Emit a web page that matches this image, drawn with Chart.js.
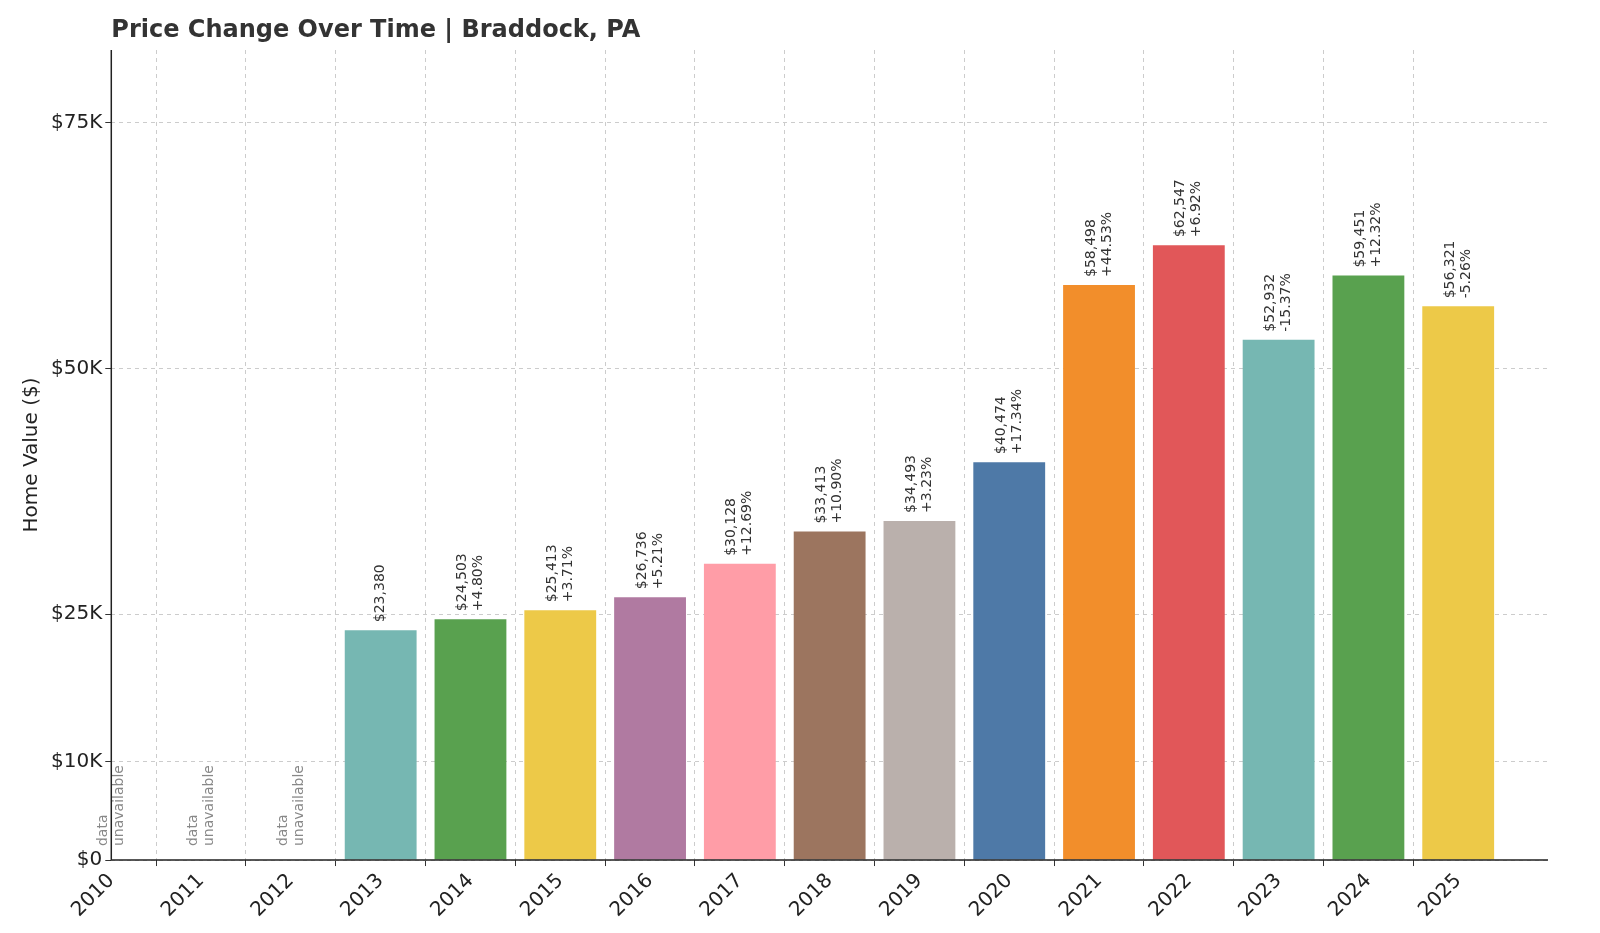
<!DOCTYPE html>
<html><head><meta charset="utf-8">
<script src="https://cdn.jsdelivr.net/npm/chart.js@4/dist/chart.umd.min.js"></script>
<style>html,body{margin:0;background:#fff}#w{width:1600px;height:933px}</style>
</head><body><div id="w"><canvas id="c"></canvas></div>
<script>
const years=['2010','2011','2012','2013','2014','2015','2016','2017','2018','2019','2020','2021','2022','2023','2024','2025'];
const values=[null,null,null,23380,24503,25413,26736,30128,33413,34493,40474,58498,62547,52932,59451,56321];
const changes=[null,null,null,null,'+4.80%','+3.71%','+5.21%','+12.69%','+10.90%','+3.23%','+17.34%','+44.53%','+6.92%','-15.37%','+12.32%','-5.26%'];
const colors=['#76b7b2','#59a14f','#edc948','#76b7b2','#59a14f','#edc948','#b07aa1','#ff9da7','#9c755f','#bab0ac','#4e79a7','#f28e2b','#e15759','#76b7b2','#59a14f','#edc948'];
const yTicks=[0,10000,25000,50000,75000];
const labels=years.concat(['']);
const F='"DejaVu Sans", sans-serif';
const annot={id:'annot',afterDatasetsDraw(ch){
  const c=ch.ctx,x=ch.scales.x,y=ch.scales.y;
  c.save();
  c.font='bold 24px '+F;c.fillStyle='#333';c.textAlign='left';c.textBaseline='middle';
  c.fillText('Price Change Over Time | Braddock, PA',ch.chartArea.left,31);
  c.font='14px '+F;
  years.forEach((yr,i)=>{
    const px=x.getPixelForValue(i);
    if(values[i]==null){
      c.save();c.translate(px,y.getPixelForValue(0)-14);c.rotate(-Math.PI/2);
      c.fillStyle='#888';c.textAlign='left';c.textBaseline='middle';
      c.fillText('data',0,-8);c.fillText('unavailable',0,8);c.restore();return;
    }
    const py=y.getPixelForValue(values[i])-8;
    c.save();c.translate(px,py);c.rotate(-Math.PI/2);
    c.fillStyle='#333';c.textAlign='left';c.textBaseline='middle';
    const s='$'+values[i].toLocaleString('en-US');
    if(changes[i]){c.fillText(s,0,-8);c.fillText(changes[i],0,8);}
    else c.fillText(s,0,0);
    c.restore();
  });
  c.restore();
}};
const axisLines={id:'axisLines',afterDraw(ch){
  const c=ch.ctx,a=ch.chartArea;c.save();c.strokeStyle='#222';c.lineWidth=1.5;c.setLineDash([]);
  c.beginPath();c.moveTo(a.left,a.top);c.lineTo(a.left,a.bottom);c.lineTo(a.right,a.bottom);c.stroke();c.restore();
}};
new Chart(document.getElementById('c'),{type:'bar',
 data:{labels,datasets:[{data:values.concat([null]),backgroundColor:colors,barPercentage:0.8,categoryPercentage:1}]},
 options:{responsive:true,maintainAspectRatio:false,animation:false,
  layout:{padding:{left:16,right:52,top:50,bottom:8}},
  plugins:{legend:{display:false},tooltip:{enabled:false},title:{display:false}},
  scales:{
   x:{offset:false,grid:{color:c=>c.index===16?'rgba(0,0,0,0)':'#ccc',tickColor:c=>c.index===16?'rgba(0,0,0,0)':'#333',tickLength:6},border:{display:false,dash:[4,4]},
      ticks:{color:'#222',font:{family:F,size:20},maxRotation:45,minRotation:45,autoSkip:false}},
   y:{min:0,max:82400,afterBuildTicks:a=>{a.ticks=yTicks.map(v=>({value:v}));},
      grid:{color:'#ccc',tickColor:'#333',tickLength:6},border:{display:false,dash:[4,4]},
      ticks:{color:'#222',font:{family:F,size:20},callback:v=>v===0?'$0':'$'+(v/1000)+'K'},
      title:{display:true,text:'Home Value ($)',color:'#222',font:{family:F,size:20}}}
  }},
 plugins:[annot,axisLines]
});
</script></body></html>
